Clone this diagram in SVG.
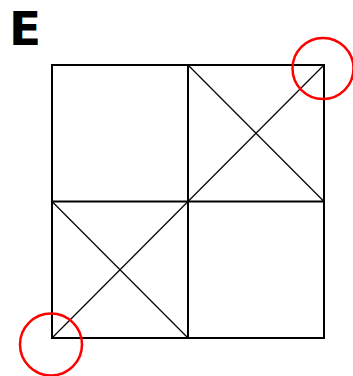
<svg xmlns="http://www.w3.org/2000/svg" width="353" height="376" viewBox="0 0 353 376">
<style>
.grid{fill:none;stroke:#000;stroke-width:2}
.diag{stroke:#000;stroke-width:1.2}
.mark{fill:none;stroke:#f00;stroke-width:2.5}
</style>
<rect width="353" height="376" fill="#fff"/>
<text x="9" y="45" font-family="DejaVu Sans, sans-serif" font-weight="bold" font-size="47">E</text>
<g id="grid">
<rect class="grid" x="52" y="65" width="272" height="273"/>
<line class="grid" x1="188" y1="65" x2="188" y2="338"/>
<line class="grid" x1="52" y1="201.5" x2="324" y2="201.5"/>
</g>
<g id="diagonals">
<line class="diag" x1="188" y1="65" x2="324" y2="201.5"/>
<line class="diag" x1="324" y1="65" x2="188" y2="201.5"/>
<line class="diag" x1="52" y1="201.5" x2="188" y2="338"/>
<line class="diag" x1="188" y1="201.5" x2="52" y2="338"/>
</g>
<g id="markers">
<circle class="mark" cx="323" cy="68.5" r="30.5"/>
<circle class="mark" cx="51" cy="344.5" r="31"/>
</g>
</svg>
